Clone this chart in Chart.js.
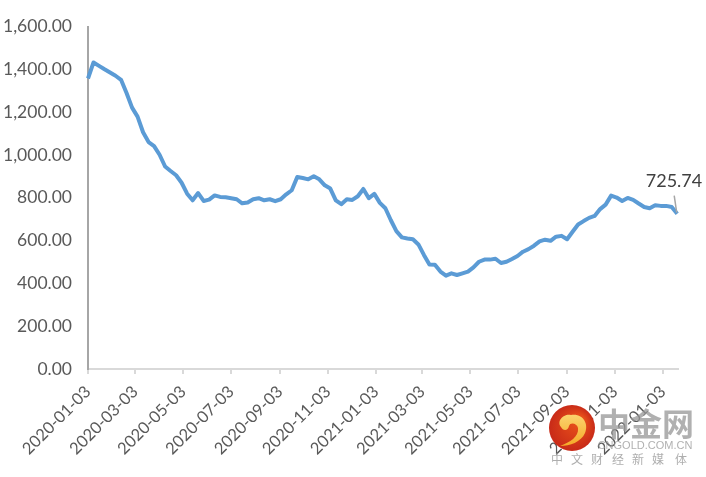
<!DOCTYPE html>
<html>
<head>
<meta charset="utf-8">
<title>Chart</title>
<style>
  html, body { margin: 0; padding: 0; background: #fff; }
  canvas { display: block; }
</style>
<script src="https://cdn.jsdelivr.net/npm/chart.js@4/dist/chart.umd.min.js"></script>
</head>
<body>
<canvas id="priceChart" width="706" height="477"></canvas>
<script>
const firstDate = "2020-01-03";
const weekCount = 108;

const tickLabels = [
    "2020-01-03", "2020-03-03", "2020-05-03", "2020-07-03", "2020-09-03", "2020-11-03",
    "2021-01-03", "2021-03-03", "2021-05-03", "2021-07-03", "2021-09-03", "2021-11-03", "2022-01-03"
];

// weekly values
const values = [
    1357, 1432, 1416, 1400, 1385, 1370, 1351, 1289, 1221, 1179, 1106, 1060,
    1041, 1001, 946, 925, 905, 870, 819, 788, 822, 785, 791, 811,
    804, 802, 798, 793, 774, 778, 793, 798, 788, 793, 784, 793,
    816, 835, 897, 892, 886, 900, 886, 858, 843, 788, 770, 793,
    790, 807, 841, 798, 818, 776, 751, 695, 644, 615, 610, 606,
    582, 533, 488, 487, 455, 436, 447, 439, 447, 455, 475, 501,
    511, 511, 515, 495, 501, 514, 528, 548, 560, 576, 596, 604,
    599, 618, 622, 606, 641, 675, 691, 706, 715, 747, 768, 810,
    801, 785, 799, 790, 773, 757, 751, 765, 762, 762, 757, 725.74
];

const lastLabel = "725.74";

function dayOffset(label) {
    return (Date.parse(label) - Date.parse(firstDate)) / 86400000;
}

const tickDays = tickLabels.map(dayOffset);
const points = values.slice(0, weekCount).map((v, i) => ({ x: i * 7, y: v }));

// leader line and text of the last point
const lastPointLabel = {
    id: "lastPointLabel",
    afterDatasetsDraw(chart) {
        const { ctx, scales } = chart;
        const last = points[points.length - 1];
        const px = scales.x.getPixelForValue(last.x);
        const py = scales.y.getPixelForValue(last.y);
        ctx.save();
        ctx.strokeStyle = "#a6a6a6";
        ctx.lineWidth = 1.5;
        ctx.beginPath();
        ctx.moveTo(px - 0.5, py - 1);
        ctx.lineTo(px - 3, py - 18);
        ctx.stroke();
        ctx.fillStyle = "#404040";
        ctx.font = "18px Lato";
        ctx.textAlign = "center";
        ctx.textBaseline = "middle";
        ctx.fillText(lastLabel, 674, 181);
        ctx.restore();
    }
};

// site watermark in the lower right corner
const watermark = {
    id: "watermark",
    afterDraw(chart) {
        const ctx = chart.ctx;
        ctx.save();
        const red = ctx.createRadialGradient(580, 420, 4, 572, 428, 23);
        red.addColorStop(0, "#e8501a");
        red.addColorStop(1, "#c82a18");
        ctx.fillStyle = red;
        ctx.beginPath();
        ctx.arc(572, 428, 23, 0, Math.PI * 2);
        ctx.fill();

        const gold = ctx.createLinearGradient(570, 412, 570, 448);
        gold.addColorStop(0, "#fbd774");
        gold.addColorStop(1, "#f5a623");
        ctx.fillStyle = gold;
        ctx.beginPath();
        ctx.moveTo(561, 427);
        ctx.bezierCurveTo(556, 421, 564, 413, 571, 415);
        ctx.bezierCurveTo(583, 413, 589, 424, 585, 433);
        ctx.bezierCurveTo(581, 442, 570, 446, 560, 446);
        ctx.bezierCurveTo(570, 442, 579, 437, 578, 428);
        ctx.bezierCurveTo(577, 423, 570, 422, 569, 426);
        ctx.bezierCurveTo(568, 431, 563, 431, 561, 427);
        ctx.fill();

        ctx.fillStyle = "rgba(150,150,150,0.75)";
        ctx.font = "bold 32px 'Noto Sans CJK SC'";
        ctx.textBaseline = "middle";
        ctx.textAlign = "center";
        ctx.fillText("中金网", 646, 424);
        ctx.font = "11px Liberation Sans";
        ctx.fillText("CNGOLD.COM.CN", 645, 446);
        ctx.fillStyle = "rgba(165,165,165,0.9)";
        ctx.font = "12px 'Noto Sans CJK SC'";
        const slogan = ["中", "文", "财", "经", "新", "媒", "体"];
        const sloganX = [557, 577, 597, 618, 638, 658, 681];
        slogan.forEach((s, i) => ctx.fillText(s, sloganX[i], 459));
        ctx.restore();
    }
};

document.addEventListener("DOMContentLoaded", () => {
    new Chart(document.querySelector("#priceChart"), {
        type: "line",
        data: {
            datasets: [{
                data: points,
                borderColor: "#5b9bd5",
                borderWidth: 4,
                borderJoinStyle: "round",
                pointRadius: 0,
                tension: 0,
                clip: false
            }]
        },
        options: {
            responsive: false,
            animation: false,
            layout: { padding: { top: 25, right: 28, left: 0, bottom: 0 } },
            plugins: { legend: { display: false }, tooltip: { enabled: false } },
            scales: {
                x: {
                    type: "linear",
                    min: 0,
                    max: 750,
                    afterBuildTicks: (scale) => {
                        scale.ticks = tickDays.map((d) => ({ value: d }));
                    },
                    afterFit: (scale) => { scale.height = 108; },
                    border: { color: "#d9d9d9", width: 2 },
                    grid: { drawOnChartArea: false, color: "#d9d9d9", lineWidth: 2, tickLength: 5 },
                    ticks: {
                        autoSkip: false,
                        minRotation: 45,
                        maxRotation: 45,
                        padding: 8,
                        color: "#595959",
                        font: { family: "Lato", size: 16.5 },
                        callback: (value) => tickLabels[tickDays.indexOf(value)]
                    }
                },
                y: {
                    min: 0,
                    max: 1600,
                    afterFit: (scale) => { scale.width = 88; },
                    border: { color: "#a6a6a6", width: 2 },
                    grid: { drawOnChartArea: false, drawTicks: false },
                    ticks: {
                        stepSize: 200,
                        padding: 16,
                        color: "#595959",
                        font: { family: "Lato", size: 17.5 },
                        callback: (value) => value.toLocaleString("en-US", { minimumFractionDigits: 2, maximumFractionDigits: 2 })
                    }
                }
            }
        },
        plugins: [lastPointLabel, watermark]
    });
});
</script>
</body>
</html>
